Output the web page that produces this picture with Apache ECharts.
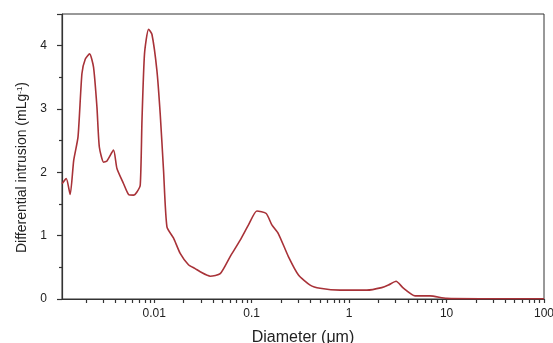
<!DOCTYPE html>
<html>
<head>
<meta charset="utf-8">
<script src="https://cdn.jsdelivr.net/npm/echarts@6/dist/echarts.min.js"></script>
<style>
  html, body { margin: 0; padding: 0; background: #fff; }
  #chart { width: 553px; height: 343px; }
</style>
</head>
<body>
<div id="chart"></div>
<script>
// pore diameter (um) and differential intrusion (mL/g)
const diameters = [
  0.00113, 0.00125, 0.00137, 0.00149, 0.00165, 0.00181, 0.00196, 0.00217,
  0.00238, 0.00258, 0.00273, 0.00302, 0.00327, 0.00382, 0.00414, 0.00484,
  0.00545, 0.00612, 0.00664, 0.00718, 0.00748, 0.00794, 0.00873, 0.00946,
  0.01064, 0.01151, 0.01245, 0.01349, 0.01578, 0.01845, 0.02244, 0.0263,
  0.0296, 0.0375, 0.0475, 0.0601, 0.0762, 0.0927, 0.113, 0.141,
  0.161, 0.188, 0.238, 0.302, 0.398, 0.504, 0.807, 1.52,
  2.16, 2.53, 3.03, 3.61, 4.75, 6.76, 10.0, 22, 100
];
const intrusion = [
  1.82, 1.90, 1.65, 2.19, 2.56, 3.56, 3.79, 3.87,
  3.66, 3.03, 2.40, 2.16, 2.18, 2.35, 2.06, 1.82,
  1.65, 1.64, 1.69, 1.80, 2.82, 3.87, 4.26, 4.18,
  3.61, 2.92, 2.03, 1.14, 0.96, 0.72, 0.54, 0.48,
  0.43, 0.36, 0.40, 0.67, 0.93, 1.17, 1.39, 1.35,
  1.17, 1.03, 0.67, 0.38, 0.22, 0.17, 0.14, 0.14,
  0.18, 0.22, 0.28, 0.17, 0.05, 0.05, 0.01, 0.005, 0.005
];
const xTickLabels = ['0.01', '0.1', '1', '10', '100'];
const xMajor = [-2, -1, 0, 1, 2];
const xMin = -2.947, xMax = 2;

// minor log ticks 2..9 in each decade
const xMinor = [];
for (let d = -3; d <= 1; d++) {
  for (let k = 2; k <= 9; k++) {
    const v = d + Math.log10(k);
    if (v > xMin && v < xMax) xMinor.push(v);
  }
}

const points = diameters.map((d, i) => [Math.log10(d), intrusion[i]]);

const chart = echarts.init(document.getElementById('chart'));
const textColor = '#222';
const lineColor = '#333';
const font = 'Liberation Sans';

chart.setOption({
  animation: false,
  backgroundColor: '#fff',
  grid: {
    left: 62, right: 9, top: 14, bottom: 44,
    outerBoundsMode: 'none',
    show: true, borderColor: lineColor, borderWidth: 1
  },
  xAxis: {
    type: 'value',
    min: xMin,
    max: xMax,
    name: 'Diameter (μm)',
    nameLocation: 'middle',
    nameGap: 31,
    nameTextStyle: { fontFamily: font, fontSize: 16, color: textColor },
    axisLine: { onZero: false, lineStyle: { color: lineColor, width: 1.2 } },
    axisTick: { show: true, length: 4, customValues: xMinor.concat(xMajor), lineStyle: { color: lineColor, width: 1.2 } },
    axisLabel: {
      customValues: xMajor,
      margin: 9,
      fontFamily: font, fontSize: 12, color: textColor,
      formatter: v => xTickLabels[xMajor.indexOf(Math.round(v))]
    },
    splitLine: { show: false }
  },
  yAxis: {
    type: 'value',
    min: 0,
    max: 4.5,
    interval: 1,
    name: 'Differential intrusion (mLg{sup|-1})',
    nameLocation: 'middle',
    nameGap: 30,
    nameTextStyle: {
      fontFamily: font, fontSize: 14, color: textColor,
      padding: [0, 22, 0, 0],
      rich: { sup: { fontFamily: font, fontSize: 8, color: textColor, verticalAlign: 'top' } }
    },
    axisLine: { show: true, onZero: false, lineStyle: { color: lineColor, width: 1.2 } },
    axisTick: { show: true, length: 5, lineStyle: { color: lineColor, width: 1.2 } },
    minorTick: { show: true, splitNumber: 2, length: 3, lineStyle: { color: lineColor, width: 1.2 } },
    axisLabel: {
      margin: 15,
      fontFamily: font, fontSize: 12, color: textColor,
      showMaxLabel: false,
      formatter: v => (Number.isInteger(v) ? String(v) : '')
    },
    splitLine: { show: false }
  },
  series: [{
    type: 'line',
    data: points,
    smooth: 0.2,
    showSymbol: false,
    lineStyle: { color: '#a83238', width: 1.6 }
  }]
});
</script>
</body>
</html>
